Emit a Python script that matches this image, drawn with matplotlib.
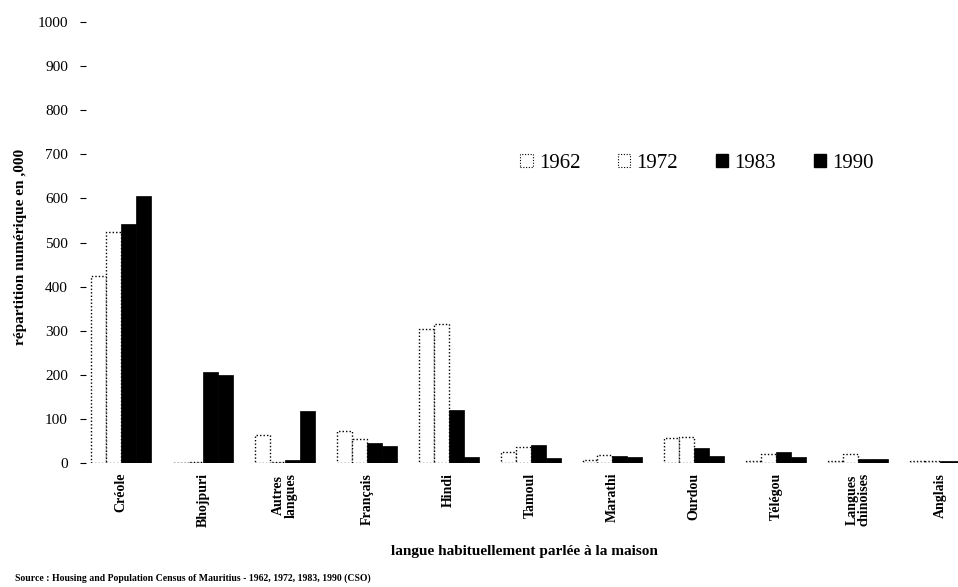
# Langue habituellement parlée à la maison, Maurice, recensements 1962-1990
import numpy as np
import matplotlib.pyplot as plt
from matplotlib.patches import Patch

plt.rcParams['font.family'] = ['Liberation Serif', 'DejaVu Serif']

# data (milliers)
langues = ['Créole', 'Bhojpuri', 'Autres\nlangues', 'Français', 'Hindi', 'Tamoul',
           'Marathi', 'Ourdou', 'Télégou', 'Langues\nchinoises', 'Anglais']
annees = ['1962', '1972', '1983', '1990']
v1962 = [425, 0, 64, 72, 303, 25, 7, 57, 5, 5, 4]
v1972 = [523, 2, 3, 55, 316, 36, 18, 60, 20, 20, 4]
v1983 = [543, 207, 7, 45, 120, 41, 15, 34, 25, 10, 5]
v1990 = [605, 200, 118, 38, 14, 12, 13, 16, 14, 8, 4]
yticks = [0, 100, 200, 300, 400, 500, 600, 700, 800, 900, 1000]

series = [v1962, v1972, v1983, v1990]
faces = ['white', 'white', 'black', 'black']

fig = plt.figure(figsize=(9.58, 5.87), dpi=100)
ax = fig.add_axes([86 / 958, 1 - 463 / 587, 872 / 958, 441 / 587])

x = np.arange(len(langues))
w = 0.183
for k, vals in enumerate(series):
    if faces[k] == 'white':
        ax.bar(x + (k - 1.5) * w, vals, w, facecolor='white', edgecolor='black',
               linewidth=1.0, linestyle=(0, (1, 1.5)))
    else:
        ax.bar(x + (k - 1.5) * w, vals, w, facecolor='black', edgecolor='black', linewidth=0.5)

ax.set_xlim(-0.43, 10.22)
ax.set_ylim(0, 1000)
ax.set_yticks(yticks)
ax.set_yticklabels([str(t) for t in yticks], fontsize=11)
ax.tick_params(axis='y', length=4, width=0.8, pad=9)
ax.set_xticks(x)
ax.set_xticklabels(langues, rotation=90, fontsize=10, fontweight='bold', linespacing=0.95)
ax.tick_params(axis='x', length=0, pad=7)
for s in ax.spines.values():
    s.set_visible(False)

ax.set_ylabel('répartition numérique en ,000', fontsize=11, fontweight='bold')
ax.yaxis.set_label_coords(-0.068, 0.49)
fig.text(524 / 958, 1 - 552 / 587, 'langue habituellement parlée à la maison',
         ha='center', va='center', fontsize=11, fontweight='bold')
fig.text(15 / 958, 1 - 578 / 587,
         'Source : Housing and Population Census of Mauritius - 1962, 1972, 1983, 1990 (CSO)',
         ha='left', va='center', fontsize=7, fontweight='bold')

handles = []
for k in range(4):
    if faces[k] == 'white':
        handles.append(Patch(facecolor='white', edgecolor='black', linestyle=(0, (1, 1.5)), linewidth=0.8))
    else:
        handles.append(Patch(facecolor='black', edgecolor='black'))
fig.legend(handles, annees, loc='center', bbox_to_anchor=(697 / 958, 1 - 163 / 587), ncol=4,
           frameon=False, fontsize=15, handlelength=0.6, handleheight=0.6,
           handletextpad=0.3, columnspacing=1.8)

fig.savefig('out.png', dpi=100)
